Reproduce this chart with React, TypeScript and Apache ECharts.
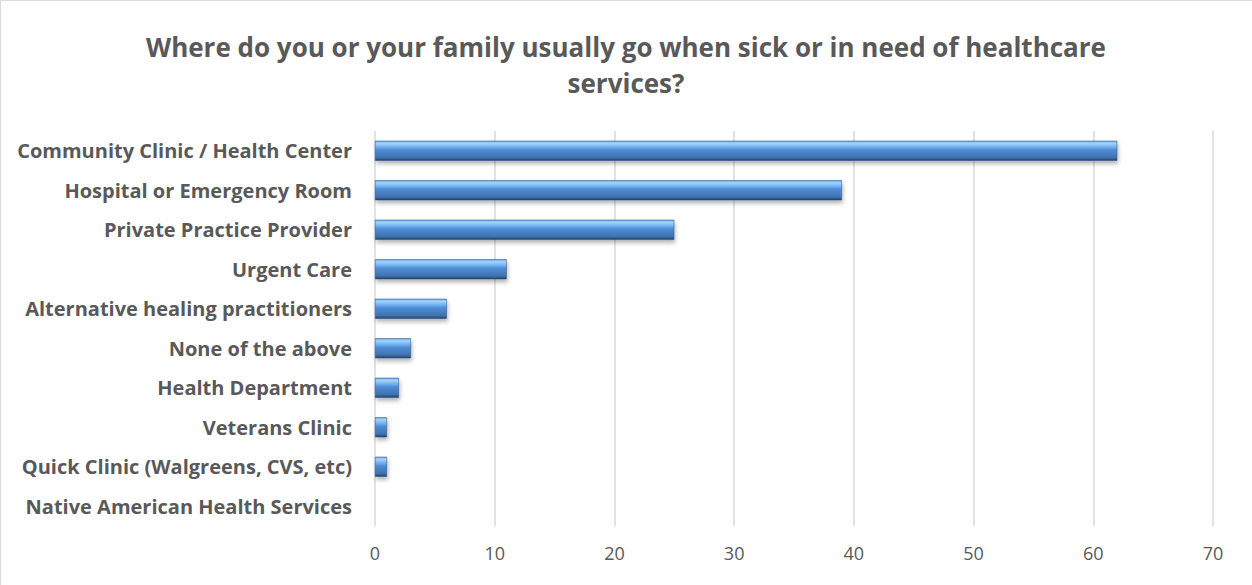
import React, { useEffect, useRef } from "react";
import * as echarts from "echarts";

const categories = [
  "Community Clinic / Health Center",
  "Hospital or Emergency Room",
  "Private Practice Provider",
  "Urgent Care",
  "Alternative healing practitioners",
  "None of the above",
  "Health Department",
  "Veterans Clinic",
  "Quick Clinic (Walgreens, CVS, etc)",
  "Native American Health Services",
];
const values = [62, 39, 25, 11, 6, 3, 2, 1, 1, 0];
const titleText =
  "Where do you or your family usually go when sick or in need of healthcare\nservices?";

export default function App() {
  const ref = useRef<HTMLDivElement>(null);
  useEffect(() => {
    if (!ref.current) return;
    const chart = echarts.init(ref.current, null, { renderer: "svg" });
    const font = "'Open Sans', 'Noto Sans', sans-serif";
    chart.setOption({
      animation: false,
      backgroundColor: "#ffffff",
      textStyle: { fontFamily: font },
      title: {
        text: titleText,
        left: "center",
        top: 24,
        textStyle: {
          fontFamily: font,
          fontSize: 26,
          fontWeight: "bold",
          color: "#595959",
          lineHeight: 36,
          align: "center",
        },
      },
      graphic: [
        {
          type: "rect",
          shape: { x: 0.5, y: 0.5, width: 1270, height: 600 },
          style: { fill: "none", stroke: "#d9d9d9", lineWidth: 1 },
          silent: true,
        },
      ],
      grid: { left: 375, right: 39, top: 131, bottom: 59, containLabel: false },
      xAxis: {
        type: "value",
        min: 0,
        max: 70,
        interval: 10,
        axisLine: { show: false },
        axisTick: { show: false },
        axisLabel: { color: "#595959", fontSize: 18, margin: 18, fontFamily: font },
        splitLine: { show: true, lineStyle: { color: "#d9d9d9", width: 1.5 } },
      },
      yAxis: {
        type: "category",
        data: categories,
        inverse: true,
        axisLine: { show: false },
        axisTick: { show: false },
        axisLabel: {
          color: "#595959",
          fontSize: 20,
          fontWeight: "bold",
          margin: 23,
          fontFamily: font,
        },
      },
      series: [
        {
          type: "bar",
          data: values,
          barWidth: 20,
          itemStyle: {
            color: new echarts.graphic.LinearGradient(0, 0, 0, 1, [
              { offset: 0, color: "#6aa8ea" },
              { offset: 0.12, color: "#a2d4fb" },
              { offset: 0.3, color: "#72b2f2" },
              { offset: 0.45, color: "#4f8dd6" },
              { offset: 0.85, color: "#3f72ad" },
              { offset: 1, color: "#22416b" },
            ]),
            borderColor: "#2a4f80",
            borderWidth: 0.5,
            shadowColor: "rgba(0,0,0,0.3)",
            shadowBlur: 4,
            shadowOffsetX: 1,
            shadowOffsetY: 3,
          },
        },
      ],
    });
    return () => chart.dispose();
  }, []);
  return (
    <div
      ref={ref}
      style={{ position: "absolute", left: 0, top: 0, width: 1252, height: 585 }}
    />
  );
}
